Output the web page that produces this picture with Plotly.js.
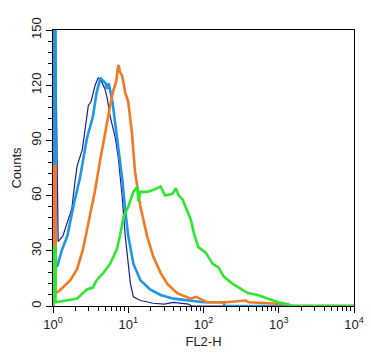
<!DOCTYPE html>
<html><head><meta charset="utf-8">
<script src="https://cdn.plot.ly/plotly-3.0.1.min.js"></script>
<style>html,body{margin:0;padding:0;background:#fff}#c{width:371px;height:355px}</style>
</head><body><div id="c"></div>
<script>
// FL2-H channel values (log axis) and counts for each histogram
const navyX = [1, 1, 1.08, 1.17, 1.35, 1.58, 1.78, 1.95, 2.09, 2.45, 2.95, 3.2, 3.63, 3.98, 4.3, 4.9, 5.25, 5.75, 6.76, 7.41, 8.32, 9.12, 10, 10.7, 11.7, 14.5, 21.4, 30, 40, 63, 70, 10000];
const navyY = [0, 150, 150, 35, 38, 47, 53, 67, 76, 85, 109, 111, 120, 124, 123, 118, 113, 103, 91, 80, 59, 38, 23, 12, 5, 3, 1.5, 1, 2, 1, 0, 0];

const blueX = [1, 1, 1.08, 1.08, 1.15, 1.3, 1.55, 1.86, 2.29, 2.82, 3.39, 3.80, 4.27, 4.68, 5.0, 5.25, 5.5, 6.17, 6.76, 7.41, 8.32, 9.12, 10, 11.7, 14.5, 19.5, 26.9, 39.8, 60, 100, 150, 186, 190, 10000];
const blueY = [0, 160, 160, 21, 22, 30, 38, 54, 70, 91, 103, 116, 124, 122, 121, 118, 121, 111, 98, 85, 69, 52, 38, 23, 14, 9, 6, 4, 3, 2, 2, 2, 0, 0];

const orangeX = [1, 1, 1.08, 1.08, 1.2, 1.35, 1.70, 2.09, 2.51, 3.09, 3.63, 4.27, 4.90, 5.75, 6.31, 6.92, 7.2, 7.41, 7.8, 8.32, 9.12, 10, 11.2, 12.3, 14.5, 17.8, 21.4, 26.9, 33.1, 44.7, 67.6, 80, 112, 200, 363, 400, 1318, 1400, 10000];
const orangeY = [0, 76, 76, 7, 8, 10, 14, 20, 31, 49, 63, 80, 94, 109, 117, 122, 128, 131, 127, 125, 116, 111, 94, 73, 54, 38, 27, 18, 12, 7, 4, 5, 2, 2, 3, 2, 1, 0, 0];

const greenX = [1, 1, 1.08, 1.08, 1.5, 2.09, 2.82, 3.39, 3.80, 4.68, 5.75, 7.08, 7.76, 8.71, 10, 11.7, 13.2, 13.6, 14.5, 17.8, 21.4, 26.9, 30.9, 38.9, 42.7, 46.8, 52.5, 61.7, 67.6, 74.1, 85.1, 107, 132, 158, 186, 245, 295, 389, 525, 708, 977, 1318, 1500, 10000];
const greenY = [0, 32, 32, 2, 3, 4, 9, 10, 14, 18, 23, 31, 38, 49, 54, 62, 65, 57, 62, 62, 63, 65, 60, 61, 64, 60, 58, 51, 47, 40, 32, 29, 23, 21, 16, 12, 10, 7, 6, 4, 2, 1, 0, 0];

const xTickVals = [1, 10, 100, 1000, 10000];
const xTickText = ['10<sup>0</sup>', '10<sup>1</sup>', '10<sup>2</sup>', '10<sup>3</sup>', '10<sup>4</sup>'];
const yTickVals = [0, 30, 60, 90, 120, 150];

const xMinor = [];
for (let d = 1; d < 10000; d *= 10) for (let k = 2; k <= 9; k++) xMinor.push(d * k);

const tr = (x, y, c, w) => ({x, y, type: 'scatter', mode: 'lines', line: {color: c, width: w}, hoverinfo: 'skip'});
const data = [
  tr(navyX, navyY, '#1c1c9c', 1.2),
  tr(blueX, blueY, '#1e98e6', 2.6),
  tr(orangeX, orangeY, '#f27a24', 2.6),
  tr(greenX, greenY, '#2ee82e', 2.6)
];
const fam = 'Liberation Sans, Arial, sans-serif';
const layout = {
  width: 371, height: 355,
  margin: {l: 53, r: 17, t: 30, b: 49},
  paper_bgcolor: '#fff', plot_bgcolor: '#fff',
  showlegend: false,
  font: {family: fam, color: '#222'},
  xaxis: {
    type: 'log', range: [0, 4], tickmode: 'array', tickvals: xTickVals, ticktext: xTickText,
    ticks: 'outside', ticklen: 6, tickwidth: 1, tickcolor: '#000',
    minor: {tickmode: 'array', tickvals: xMinor, ticks: 'outside', ticklen: 4, tickwidth: 1, tickcolor: '#000'},
    showline: true, linecolor: '#000', linewidth: 1.2, mirror: true, showgrid: false, zeroline: false,
    tickfont: {size: 13, family: fam, color: '#222'},
    title: {text: 'FL2-H', font: {size: 13, family: fam, color: '#222'}, standoff: 6},
    layer: 'below traces'
  },
  yaxis: {
    range: [0, 150], tickmode: 'array', tickvals: yTickVals, tickangle: -90,
    ticks: 'outside', ticklen: 6, tickwidth: 1, tickcolor: '#000',
    minor: {dtick: 6, ticks: 'outside', ticklen: 4, tickwidth: 1, tickcolor: '#000'},
    showline: true, linecolor: '#000', linewidth: 1.2, mirror: true, showgrid: false, zeroline: false,
    tickfont: {size: 13, family: fam, color: '#222'},
    title: {text: 'Counts', font: {size: 13, family: fam, color: '#222'}, standoff: 4},
    layer: 'below traces'
  }
};
Plotly.newPlot('c', data, layout, {staticPlot: true, displayModeBar: false});
</script></body></html>
